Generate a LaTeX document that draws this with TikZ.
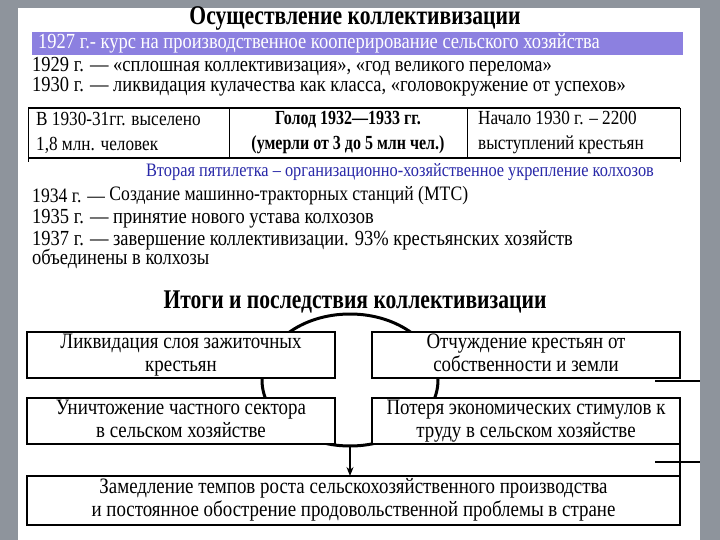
\documentclass[tikz,border=0pt]{standalone}
\usepackage{fontspec}
\setmainfont{Liberation Serif}[FakeStretch=0.86]
\newfontfamily\ttl{Liberation Serif}[FakeStretch=0.8]
\usetikzlibrary{arrows.meta}
\definecolor{bgg}{HTML}{8E949C}
\definecolor{purp}{HTML}{8C80E0}
\definecolor{blu}{HTML}{2828A8}
\tikzset{x=1pt,y=-1pt,
 txt/.style={anchor=west,inner sep=0,font=\fontsize{21.5}{22}\selectfont},
 cell/.style={align=left,anchor=west,inner sep=0,font=\fontsize{20}{25}\selectfont},
 box/.style={draw,line width=1.3pt,align=center,inner sep=0,font=\fontsize{22}{23}\selectfont},
 hd/.style={font=\ttl\bfseries\fontsize{27}{28}\selectfont,inner sep=0}}
\begin{document}
\begin{tikzpicture}
\useasboundingbox (0,0) rectangle (720,540);
\fill[bgg] (0,0) rectangle (720,540);
\fill[white] (18,8) rectangle (700,540);
\node[hd] (t1) at (355,18) {Осуществление коллективизации};
\fill[purp] (32,32) rectangle (683,55);
\node[txt,text=white] (p) at (38,43) {1927 г.- курс на производственное кооперирование сельского хозяйства};
\node[txt] (l1) at (32,67) {1929 г. — «сплошная коллективизация», «год великого перелома»};
\node[txt] (l2) at (32,87) {1930 г. — ликвидация кулачества как класса, «головокружение от успехов»};
\draw[line width=1.5pt] (28,108) -- (680,108) (28,158) -- (680,158);
\draw[line width=1pt] (28,108) -- (28,162) (229,108) -- (229,158) (467,108) -- (467,158) (680,108)--(680,162);
\node[cell] (c1) at (36,133) {В 1930-31гг. выселено\\1,8 млн. человек};
\node[align=center,inner sep=0,font=\ttl\bfseries\fontsize{20}{25}\selectfont] (c2) at (348,133) {Голод 1932—1933 гг.\\(умерли от 3 до 5 млн чел.)};
\node[cell] (c3) at (478,133) {Начало 1930 г. – 2200\\выступлений крестьян};
\node[inner sep=0,text=blu,font=\fontsize{19}{20}\selectfont] (v) at (400,172) {Вторая пятилетка – организационно-хозяйственное укрепление колхозов};
\node[txt,font=\fontsize{20.5}{21}\selectfont] (m1) at (32,196) {1934 г. — \raisebox{2pt}{Создание машинно-тракторных станций (МТС)}};
\node[txt] (m2) at (32,219) {1935 г. — принятие нового устава колхозов};
\node[txt] (m3) at (32,240) {1937 г. — завершение коллективизации. 93\% крестьянских хозяйств};
\node[txt] (m4) at (32,259) {объединены в колхозы};
\node[hd] (t2) at (355,302) {Итоги и последствия коллективизации};
\draw[line width=3pt] (350,380) ellipse (88 and 66);
\coordinate (ar) at (350,446);
\draw[line width=1.3pt,-{Stealth[length=9pt,width=7pt]}] (ar) -- (350,476);
\node[box,fill=white,minimum width=308,minimum height=46] (b1) at (181,355) {\strut Ликвидация слоя зажиточных\\\strut крестьян};
\node[box,fill=white,minimum width=308,minimum height=46] (b2) at (526,355) {\strut Отчуждение крестьян от\\\strut собственности и земли};
\node[box,fill=white,minimum width=308,minimum height=46] (b3) at (181,421) {\strut Уничтожение частного сектора\\\strut в сельском хозяйстве};
\node[box,fill=white,minimum width=308,minimum height=46] (b4) at (526,421) {\strut Потеря экономических стимулов к\\\strut труду в сельском хозяйстве};
\node[box,fill=white,minimum width=653,minimum height=49] (b5) at (353.5,500.5) {\strut Замедление темпов роста сельскохозяйственного производства\\\strut и постоянное обострение продовольственной проблемы в стране};
\draw[line width=1.3pt] (655,381) -- (700,381) (655,462) -- (700,462) (680,444)--(680,476);
\end{tikzpicture}
\end{document}
